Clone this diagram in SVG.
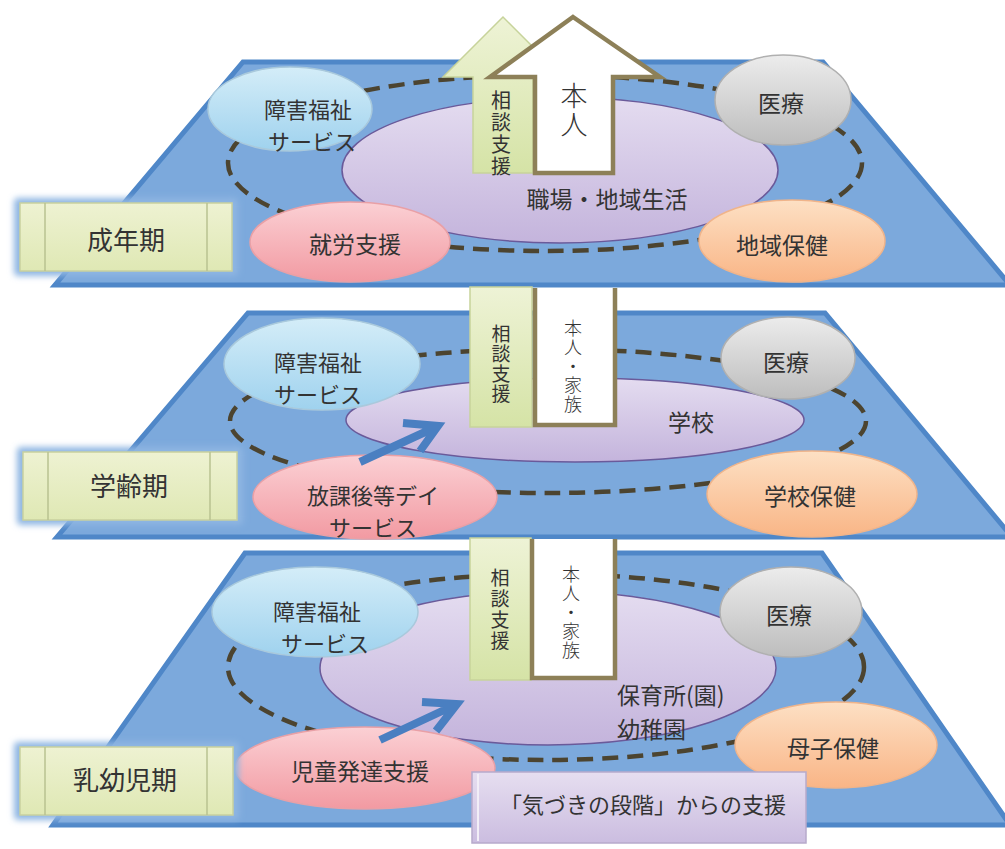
<svg xmlns="http://www.w3.org/2000/svg" width="1005" height="849" viewBox="0 0 1005 849">
<defs>
<linearGradient id="gBlue" x1="0" y1="0" x2="0" y2="1"><stop offset="0" stop-color="#d4edf8"/><stop offset="1" stop-color="#9fd2ee"/></linearGradient>
<linearGradient id="gGray" x1="0" y1="0" x2="0" y2="1"><stop offset="0" stop-color="#ececec"/><stop offset="1" stop-color="#bdbdbd"/></linearGradient>
<linearGradient id="gPurple" x1="0" y1="0" x2="0" y2="1"><stop offset="0" stop-color="#e4dcf0"/><stop offset="1" stop-color="#c4b4dc"/></linearGradient>
<linearGradient id="gPink" x1="0" y1="0" x2="0" y2="1"><stop offset="0" stop-color="#fbd0d4"/><stop offset="1" stop-color="#f29aa2"/></linearGradient>
<linearGradient id="gOrange" x1="0" y1="0" x2="0" y2="1"><stop offset="0" stop-color="#fde0c4"/><stop offset="1" stop-color="#f9b586"/></linearGradient>
<linearGradient id="gGreen" x1="0" y1="0" x2="0" y2="1"><stop offset="0" stop-color="#eef3d6"/><stop offset="1" stop-color="#d5e3a6"/></linearGradient>
<linearGradient id="gLabel" x1="0" y1="0" x2="0" y2="1"><stop offset="0" stop-color="#eef2d2"/><stop offset="1" stop-color="#dfe8b4"/></linearGradient>
<linearGradient id="gLav" x1="0" y1="0" x2="0" y2="1"><stop offset="0" stop-color="#e6def0"/><stop offset="1" stop-color="#cbbde0"/></linearGradient>
<filter id="glow" x="-20%" y="-30%" width="140%" height="160%"><feGaussianBlur stdDeviation="3"/></filter>
</defs>
<style>
.plane{fill:#7ca9dc;stroke:#4f87c8;stroke-width:5;stroke-linejoin:miter}
.ring{fill:none;stroke:#4c4430;stroke-width:4.5;stroke-dasharray:16 9}
.e{stroke-width:1.5}
.blue{fill:url(#gBlue);stroke:#a9c9dc}
.gray{fill:url(#gGray);stroke:#b0b0b0}
.purple{fill:url(#gPurple);stroke:#6a5a9a;stroke-width:1.5}
.pink{fill:url(#gPink);stroke:#e9a0a6}
.orange{fill:url(#gOrange);stroke:#f0b48a}
.t{font-family:"Noto Sans CJK JP","Noto Sans",sans-serif;fill:#333;text-anchor:middle}
.v{writing-mode:vertical-rl}
.f22{font-size:22px}
.f23{font-size:23px}
.f26{font-size:26px}
.lbl rect.in{fill:url(#gLabel);stroke:#c9d19f;stroke-width:1.5}
.lbl rect.gl{fill:#8fb6e2}
.lbl line{stroke:#b9c290;stroke-width:1.5}
.green{fill:url(#gGreen);stroke:#c7d39b;stroke-width:1.5}
.wbox{fill:#ffffff}
.olive{fill:none;stroke:#8d8058;stroke-width:4.5}
.barrow{fill:none;stroke:#4a7fc1;stroke-width:8;stroke-linecap:butt}
</style>

<!-- planes -->
<g id="plane-adult"><polygon class="plane" points="243,62 823,62 1010,285 55,285"/></g>
<g id="plane-school"><polygon class="plane" points="248,313 825,313 1012,537 57,537"/></g>
<g id="plane-infant"><polygon class="plane" points="245,553 822,553 1010,825 53,825"/></g>

<g id="connectors">
<ellipse class="ring" cx="545" cy="163" rx="317" ry="88"/>
<ellipse class="ring" cx="548" cy="421" rx="318" ry="72"/>
<ellipse class="ring" cx="546" cy="667" rx="318" ry="93"/>
</g>

<!-- layer 1 -->
<g id="n-workplace"><ellipse class="purple" cx="560" cy="170" rx="218" ry="73"/><text class="t f23" x="607" y="208">職場・地域生活</text></g>
<g id="n-welfare1"><ellipse class="e blue" cx="290" cy="109" rx="82" ry="42"/><text class="t f22"><tspan x="308" y="118">障害福祉</tspan><tspan x="312" y="150">サービス</tspan></text></g>
<g id="n-medical1"><ellipse class="e gray" cx="783" cy="100" rx="68" ry="45"/><text class="t f23" x="781" y="112">医療</text></g>
<g id="n-work"><ellipse class="e pink" cx="350" cy="242" rx="100" ry="40"/><text class="t f23" x="355" y="253">就労支援</text></g>
<g id="n-health1"><ellipse class="e orange" cx="792" cy="241" rx="93" ry="41"/><text class="t f23" x="782" y="254">地域保健</text></g>
<g id="n-consult1">
<polygon class="green" points="503,17 443,77 473,77 473,173 533,173 533,77 563,77"/>
<text class="t v" style="font-size:20px;letter-spacing:2px" x="501" y="134">相談支援</text>
</g>
<g id="n-self1">
<polygon points="573,17 660,77 613,77 613,173 535,173 535,77 490,77" fill="#fff" stroke="#8d8058" stroke-width="4.5" stroke-linejoin="miter"/>
<text class="t v" style="font-size:27px;font-weight:300;letter-spacing:2px" x="574" y="111">本人</text>
</g>
<g id="lbl-adult" class="lbl"><rect class="gl" x="14" y="198" width="224" height="78" rx="4" filter="url(#glow)"/><rect class="in" x="20" y="203" width="212" height="68"/><line x1="45" y1="203" x2="45" y2="271"/><line x1="207" y1="203" x2="207" y2="271"/><text class="t f26" x="126" y="250">成年期</text></g>

<!-- layer 2 -->
<g id="n-school"><ellipse class="purple" cx="575" cy="420" rx="229" ry="42"/><text class="t f23" x="691" y="431">学校</text></g>
<g id="n-welfare2"><ellipse class="e blue" cx="322" cy="364" rx="98" ry="46"/><text class="t f22"><tspan x="318" y="371">障害福祉</tspan><tspan x="318" y="403">サービス</tspan></text></g>
<g id="n-medical2"><ellipse class="e gray" cx="788" cy="358" rx="67" ry="41"/><text class="t f23" x="786" y="371">医療</text></g>
<g id="n-dayservice"><ellipse class="e pink" cx="375" cy="497" rx="122" ry="42"/><text class="t f22"><tspan x="373" y="504">放課後等デイ</tspan><tspan x="373" y="536">サービス</tspan></text></g>
<g id="n-health2"><ellipse class="e orange" cx="812" cy="494" rx="105" ry="43"/><text class="t f23" x="810" y="505">学校保健</text></g>
<g id="n-consult2">
<rect class="green" x="470" y="287" width="62" height="140"/>
<text class="t v" style="font-size:19px;letter-spacing:1px" x="501" y="364">相談支援</text>
</g>
<g id="n-self2">
<rect class="wbox" x="533" y="288" width="82" height="137"/>
<path class="olive" d="M535,288 V425 H615 V288"/>
<text class="t v" style="font-size:18px;font-weight:300;letter-spacing:1px" x="573" y="367">本人・家族</text>
</g>
<g id="lbl-school" class="lbl"><rect class="gl" x="17" y="447" width="226" height="78" rx="4" filter="url(#glow)"/><rect class="in" x="23" y="452" width="214" height="68"/><line x1="48" y1="452" x2="48" y2="520"/><line x1="210" y1="452" x2="210" y2="520"/><text class="t f26" x="129" y="496">学齢期</text></g>

<!-- layer 3 -->
<g id="n-nursery"><ellipse class="purple" cx="548" cy="668" rx="228" ry="77"/><text class="t f23" style="text-anchor:start"><tspan x="617" y="704">保育所(園)</tspan><tspan x="617" y="738">幼稚園</tspan></text></g>
<g id="n-welfare3"><ellipse class="e blue" cx="315" cy="612" rx="103" ry="45"/><text class="t f22"><tspan x="317" y="620">障害福祉</tspan><tspan x="325" y="652">サービス</tspan></text></g>
<g id="n-medical3"><ellipse class="e gray" cx="791" cy="612" rx="71" ry="45"/><text class="t f23" x="789" y="624">医療</text></g>
<g id="n-childdev"><ellipse class="e pink" cx="365" cy="768" rx="130" ry="41"/><text class="t f23" x="360" y="780">児童発達支援</text></g>
<g id="n-health3"><ellipse class="e orange" cx="836" cy="745" rx="101" ry="43"/><text class="t f23" x="833" y="757">母子保健</text></g>
<g id="n-consult3">
<rect class="green" x="470" y="538" width="61" height="142"/>
<text class="t v" style="font-size:19px;letter-spacing:2px" x="500" y="610">相談支援</text>
</g>
<g id="n-self3">
<rect class="wbox" x="531" y="539" width="84" height="139"/>
<path class="olive" d="M532,539 V678 H615 V539"/>
<text class="t v" style="font-size:18px;font-weight:300;letter-spacing:1px" x="571" y="613">本人・家族</text>
</g>
<g id="lbl-infant" class="lbl"><rect class="gl" x="14" y="742" width="225" height="78" rx="4" filter="url(#glow)"/><rect class="in" x="20" y="747" width="213" height="68"/><line x1="45" y1="747" x2="45" y2="815"/><line x1="207" y1="747" x2="207" y2="815"/><text class="t f26" x="125" y="790">乳幼児期</text></g>
<g id="n-awareness">
<rect x="472" y="772" width="334" height="71" fill="url(#gLav)" stroke="#b7aacb" stroke-width="1.5"/>
<line x1="478" y1="774" x2="478" y2="841" stroke="#f2eef7" stroke-width="2"/>
<text class="t" style="font-size:22px" x="643" y="813">「気づきの段階」からの支援</text>
</g>

<!-- blue arrows -->
<g id="arrows">
<path class="barrow" d="M360,462 L436,427 M403,423 L438,426 L420,451"/>
<path class="barrow" d="M380,740 L455,705 M422,702 L457,704 L436,731"/>
</g>
</svg>
